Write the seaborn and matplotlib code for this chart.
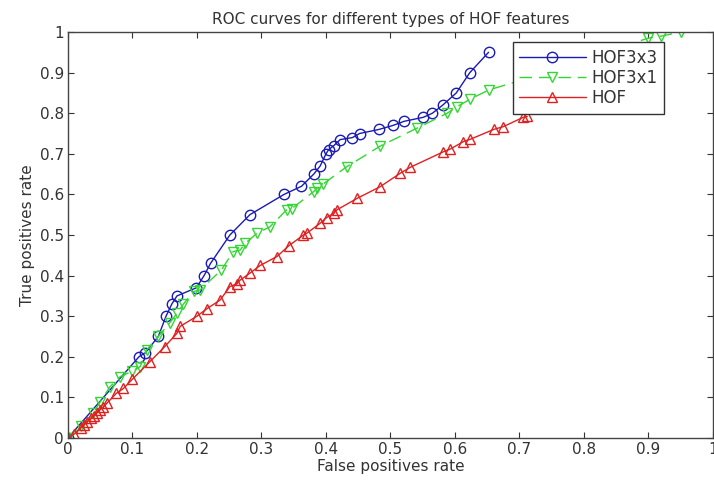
import pandas as pd
import seaborn as sns
import matplotlib.pyplot as plt

# ROC points
hof3x3_fpr = [0, 0.11, 0.12, 0.14, 0.152, 0.161, 0.169, 0.199, 0.211, 0.221, 0.251,
              0.282, 0.335, 0.362, 0.381, 0.391, 0.400, 0.404, 0.412, 0.422, 0.441,
              0.452, 0.482, 0.504, 0.521, 0.551, 0.565, 0.581, 0.602, 0.623, 0.652]
hof3x3_tpr = [0, 0.20, 0.21, 0.25, 0.30, 0.33, 0.35, 0.37, 0.40, 0.43, 0.50,
              0.55, 0.60, 0.62, 0.65, 0.67, 0.70, 0.71, 0.72, 0.735, 0.74,
              0.75, 0.76, 0.77, 0.78, 0.79, 0.80, 0.82, 0.85, 0.90, 0.95]

hof3x1_fpr = [0, 0.02, 0.039, 0.05, 0.065, 0.081, 0.10, 0.112, 0.122, 0.14, 0.158,
              0.169, 0.179, 0.195, 0.205, 0.238, 0.256, 0.267, 0.275, 0.293, 0.313,
              0.339, 0.347, 0.381, 0.386, 0.396, 0.432, 0.484, 0.541, 0.588, 0.603,
              0.624, 0.652, 0.70, 0.75, 0.80, 0.85, 0.90, 0.92, 0.95]
hof3x1_tpr = [0, 0.03, 0.061, 0.089, 0.126, 0.151, 0.165, 0.176, 0.217, 0.25, 0.284,
              0.307, 0.330, 0.361, 0.365, 0.414, 0.459, 0.463, 0.48, 0.504, 0.52,
              0.562, 0.565, 0.607, 0.615, 0.626, 0.668, 0.719, 0.763, 0.80, 0.816,
              0.835, 0.857, 0.88, 0.91, 0.94, 0.96, 0.985, 0.99, 1.0]

hof_fpr = [0, 0.01, 0.02, 0.025, 0.03, 0.035, 0.04, 0.045, 0.05, 0.055, 0.06,
           0.075, 0.086, 0.1, 0.127, 0.15, 0.169, 0.174, 0.2, 0.215, 0.236,
           0.251, 0.262, 0.267, 0.282, 0.298, 0.324, 0.342, 0.365, 0.37, 0.391,
           0.401, 0.412, 0.417, 0.448, 0.484, 0.515, 0.531, 0.582, 0.593, 0.613,
           0.624, 0.66, 0.675, 0.706, 0.712]
hof_tpr = [0, 0.01, 0.025, 0.033, 0.04, 0.048, 0.055, 0.062, 0.07, 0.076, 0.085,
           0.11, 0.122, 0.145, 0.188, 0.225, 0.258, 0.275, 0.30, 0.318, 0.34,
           0.373, 0.38, 0.389, 0.406, 0.425, 0.447, 0.473, 0.5, 0.504, 0.529,
           0.543, 0.553, 0.562, 0.59, 0.619, 0.652, 0.667, 0.705, 0.712, 0.73,
           0.736, 0.76, 0.767, 0.79, 0.792]

ticks = [0, 0.1, 0.2, 0.3, 0.4, 0.5, 0.6, 0.7, 0.8, 0.9, 1]
tick_labels = ["0", "0.1", "0.2", "0.3", "0.4", "0.5", "0.6", "0.7", "0.8", "0.9", "1"]

sns.set_style("ticks")
plt.rcParams['font.family'] = ["DejaVu Sans"]

fig = plt.figure(figsize=(7.14, 4.83), dpi=100)
ax = fig.add_axes([0.0952, 0.0932, 0.9034, 0.8405])

series = [
    ("HOF3x3", hof3x3_fpr, hof3x3_tpr, "#1a1ab4", "o", "-"),
    ("HOF3x1", hof3x1_fpr, hof3x1_tpr, "#33d633", "v", (0, (9, 5))),
    ("HOF", hof_fpr, hof_tpr, "#e02020", "^", "-"),
]

for name, fpr, tpr, color, marker, ls in series:
    df = pd.DataFrame({"fpr": fpr, "tpr": tpr})
    sns.lineplot(data=df, x="fpr", y="tpr", ax=ax, sort=False, estimator=None,
                 color=color, linewidth=1.0, linestyle=ls, marker=marker,
                 markersize=7.5, markerfacecolor="none", markeredgecolor=color,
                 markeredgewidth=1.0, label=name)

ax.set_xlim(0, 1)
ax.set_ylim(0, 1)
ax.set_xticks(ticks)
ax.set_xticklabels(tick_labels)
ax.set_yticks(ticks)
ax.set_yticklabels(tick_labels)
ax.tick_params(direction="in", length=4, labelsize=11, colors="#333333",
               top=True, right=True, pad=3)
for sp in ax.spines.values():
    sp.set_visible(True)
    sp.set_color("#444444")
    sp.set_linewidth(1.0)

ax.set_title("ROC curves for different types of HOF features", fontsize=11,
             color="#333333", pad=6)
ax.set_xlabel("False positives rate", fontsize=11, color="#333333", labelpad=1)
ax.set_ylabel("True positives rate", fontsize=11, color="#333333", labelpad=3)

leg = ax.legend(loc="upper right", bbox_to_anchor=(0.924, 0.975), fontsize=12,
                frameon=True, fancybox=False, framealpha=1, edgecolor="#333333",
                handlelength=4.0, borderpad=0.38, labelspacing=0.14,
                handletextpad=0.35, borderaxespad=0)
leg.get_frame().set_linewidth(1.0)
for t in leg.get_texts():
    t.set_color("#333333")

fig.savefig("out.png", dpi=100)
